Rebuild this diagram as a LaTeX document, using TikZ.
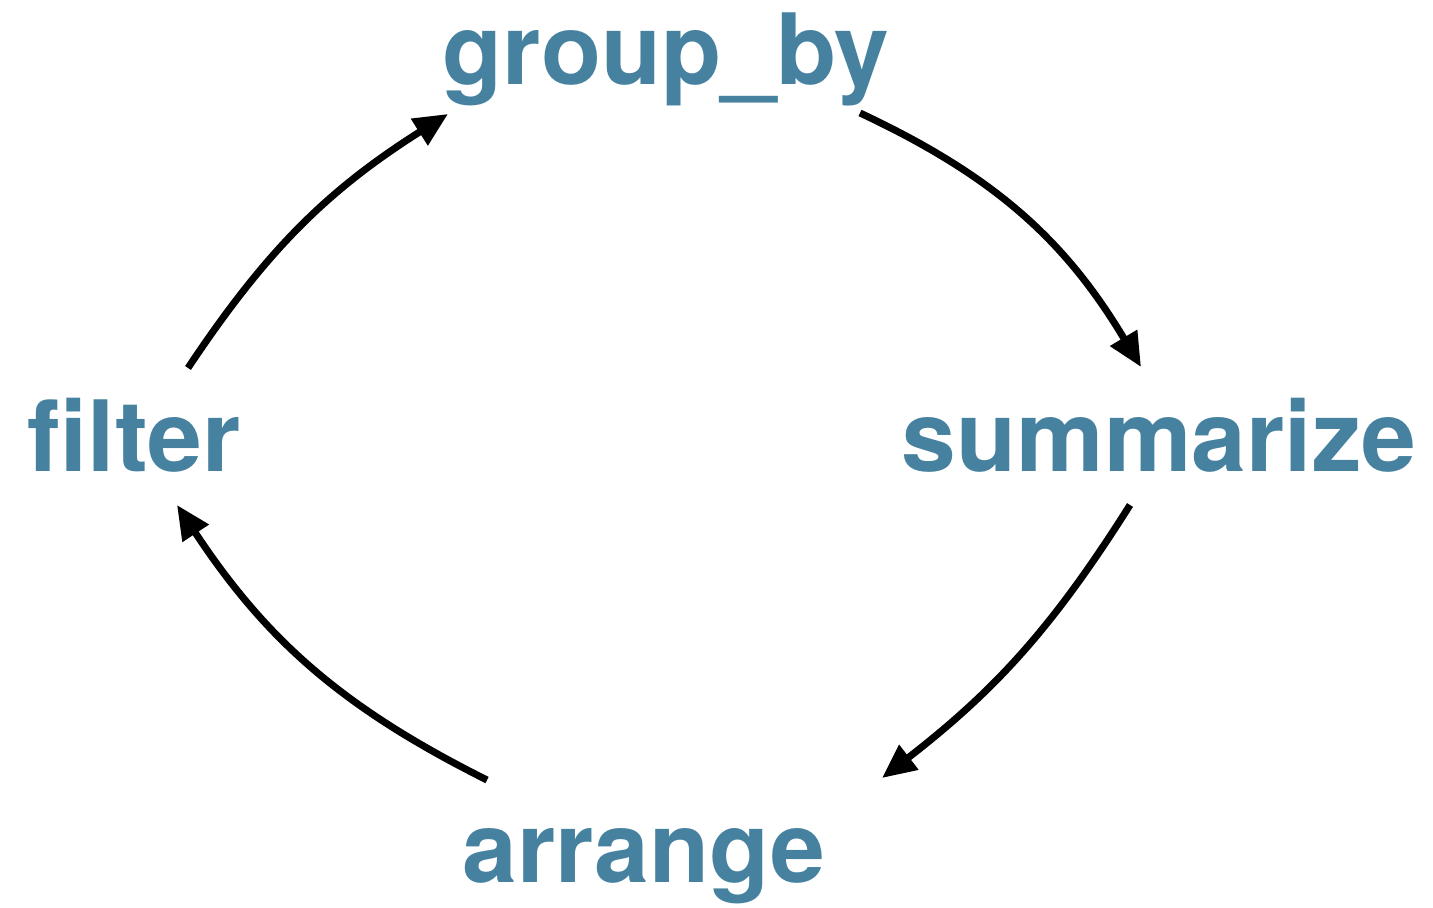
\documentclass[tikz,border=0pt]{standalone}
\usepackage{fontspec}
\setmainfont{TeX Gyre Heros}
\usetikzlibrary{arrows.meta}
\definecolor{verbblue}{HTML}{4682A0}
\begin{document}
\begin{tikzpicture}[
    word/.style={text=verbblue, font=\fontsize{28}{34}\selectfont\bfseries, inner sep=0pt, anchor=base},
    cyc/.style={line width=2pt, -{Triangle[length=0.34cm,width=0.3cm]}}]
    \useasboundingbox (0,0) rectangle (14.33,9.07);
    \node[word] (groupby) at (6.66,8.22) {group\_by};
    \node[word] (filter) at (1.34,4.35) {filter};
    \node[word] (summarize) at (11.59,4.35) {summarize};
    \node[word] (arrange) at (6.44,0.25) {arrange};
    \draw[cyc] ([shift={(0.54,1.04)}]filter.base) to[bend left=12] ([shift={(-2.18,-0.29)}]groupby.base);
    \draw[cyc] ([shift={(1.94,-0.28)}]groupby.base) to[bend left=17] ([shift={(-0.18,1.05)}]summarize.base);
    \draw[cyc] ([shift={(-0.29,-0.33)}]summarize.base) to[bend left=10] ([shift={(2.38,1.04)}]arrange.base);
    \draw[cyc] ([shift={(-1.57,1.02)}]arrange.base) to[bend left=15] ([shift={(0.43,-0.33)}]filter.base);
\end{tikzpicture}
\end{document}
